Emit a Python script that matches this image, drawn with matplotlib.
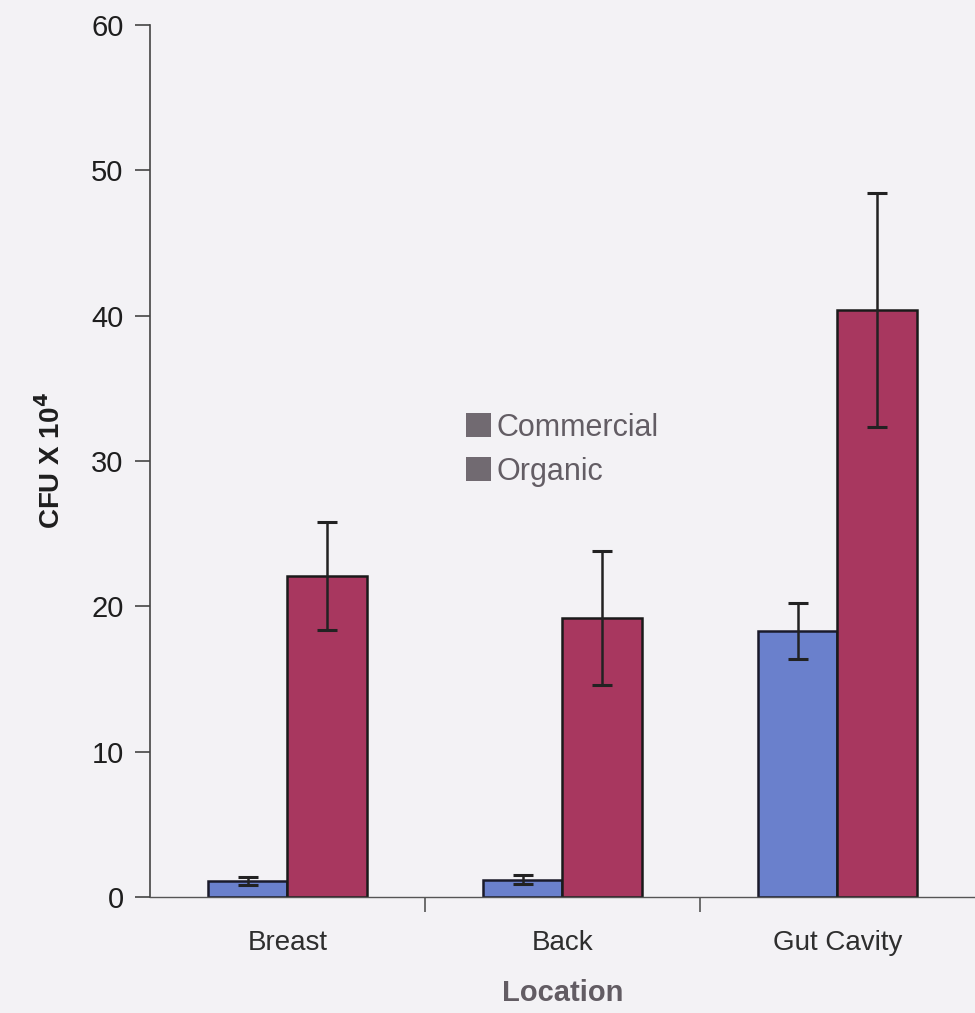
import numpy as np
import matplotlib
matplotlib.use("Agg")
import matplotlib.pyplot as plt
from matplotlib.patches import Patch

plt.rcParams['font.family'] = ['Liberation Sans', 'DejaVu Sans']

# data
locations = ['Breast', 'Back', 'Gut Cavity']
commercial = [1.1, 1.2, 18.3]
commercial_err = [0.3, 0.3, 1.95]
organic = [22.1, 19.2, 40.4]
organic_err = [3.7, 4.6, 8.05]

blue = '#6a80cc'
red = '#a8375f'
bg = '#f3f2f5'

fig = plt.figure(figsize=(9.75, 10.13), dpi=100, facecolor=bg)
ax = fig.add_axes([0.1538, 0.1145, 0.8462, 0.8608])
ax.set_facecolor(bg)

x = np.arange(len(locations))
w = 0.29
err_kw = dict(ecolor='#222222', elinewidth=1.8, capsize=7, capthick=2.2)
ax.bar(x - w / 2, commercial, w, yerr=commercial_err, color=blue,
       edgecolor='#1a1a2a', linewidth=1.8, error_kw=err_kw)
ax.bar(x + w / 2, organic, w, yerr=organic_err, color=red,
       edgecolor='#1a1a1a', linewidth=1.8, error_kw=err_kw)

ax.set_xlim(-0.5, 2.5)
ax.set_ylim(0, 60)
ax.set_yticks(np.arange(0, 61, 10))
ax.tick_params(axis='y', labelsize=21, length=11, width=1.2, pad=8,
               colors='#444444', labelcolor='#1e1e1e')

ax.set_xticks(x)
ax.set_xticklabels(locations, fontsize=20, color='#2e2e2e')
ax.set_xticks([0.5, 1.5], minor=True)
ax.tick_params(axis='x', which='major', length=0, pad=24)
ax.tick_params(axis='x', which='minor', length=11, width=1.2, colors='#555555')

for s in ['top', 'right']:
    ax.spines[s].set_visible(False)
ax.spines['left'].set_color('#444444')
ax.spines['bottom'].set_color('#555555')
ax.spines['left'].set_linewidth(1.2)
ax.spines['bottom'].set_linewidth(1.0)

ax.set_xlabel('Location', fontsize=21, fontweight='bold', color='#625c63', labelpad=16)
ax.set_ylabel(r'CFU X 10$^\mathbf{4}$', fontsize=20, fontweight='bold',
              color='#1e1e1e', labelpad=18)

handles = [Patch(facecolor='#716a71', edgecolor='none'),
           Patch(facecolor='#716a71', edgecolor='none')]
ax.legend(handles, ['Commercial', 'Organic'], loc='center',
          bbox_to_anchor=(0.5, 0.513), frameon=False, fontsize=22,
          labelcolor='#635d64', handlelength=0.8, handleheight=0.8,
          handletextpad=0.2, labelspacing=0.45)

fig.savefig('out.png', dpi=100, facecolor=bg)
